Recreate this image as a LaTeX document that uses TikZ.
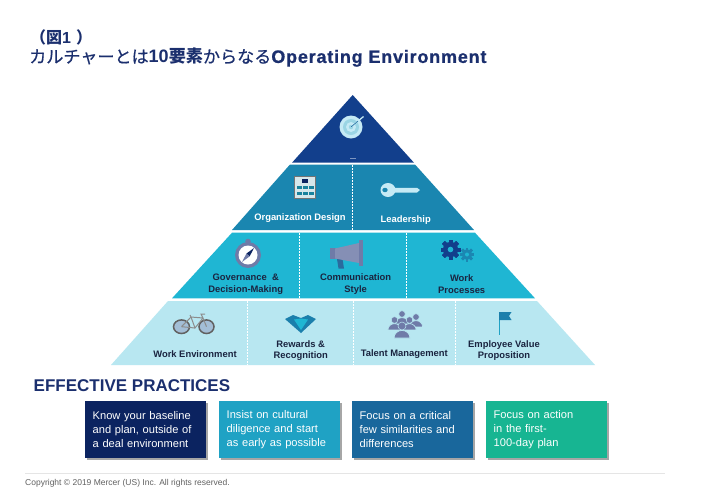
\documentclass[tikz,border=0pt]{standalone}
\usepackage{fontspec}
\setmainfont{Liberation Sans}
\newfontfamily\jpfont{Noto Sans CJK JP}
\usetikzlibrary{shadows}
\definecolor{navy}{HTML}{1B2F6E}
\definecolor{tierA}{HTML}{123F8C}
\definecolor{tierB}{HTML}{1A86B0}
\definecolor{tierC}{HTML}{1FB6D3}
\definecolor{tierD}{HTML}{B8E7F1}
\definecolor{boxA}{HTML}{0B2360}
\definecolor{boxB}{HTML}{1FA2C4}
\definecolor{boxC}{HTML}{19679C}
\definecolor{boxD}{HTML}{17B592}
\definecolor{inkdark}{HTML}{1A2440}
\definecolor{iconpurple}{HTML}{6F7BA8}
\definecolor{iconpale}{HTML}{C5EAF5}
\newcommand{\gearicon}[4]{% x y radius colour
  \fill[#4] (#1,#2) circle ({#3*0.76});
  \foreach \a in {0,45,...,135}{
    \fill[#4,shift={(#1,#2)},rotate=\a] ({-#3*0.2},{-#3}) rectangle ({#3*0.2},{#3});
    \fill[#4,shift={(#1,#2)},rotate=\a] ({-#3},{-#3*0.2}) rectangle ({#3},{#3*0.2});
  }
}
\newcommand{\personicon}[3]{% x y head radius
  \filldraw[fill=iconpurple,draw=tierD,line width=0.7pt] ({#1-2*#3},{#2+3*#3}) arc[start angle=180,end angle=360,x radius={2*#3},y radius={1.9*#3}] -- cycle;
  \filldraw[fill=iconpurple,draw=tierD,line width=0.5pt] (#1,#2) circle (#3);
}
\tikzset{
  divider/.style={white,line width=1pt,dash pattern=on 1.6pt off 1.4pt},
  wlabel/.style={inner sep=0pt,text=white,font=\fontsize{9.4}{11.6}\selectfont\bfseries,align=center},
  dlabel/.style={inner sep=0pt,text=inkdark,font=\fontsize{9.4}{11.6}\selectfont\bfseries,align=center},
  pbox/.style={inner xsep=7.5pt,inner ysep=0pt,minimum height=57pt,text width=106pt,align=left,text=white,
    font=\fontsize{11.1}{14}\selectfont,
    drop shadow={shadow xshift=2pt,shadow yshift=-2pt,fill=black!35,opacity=1}},
}
\begin{document}
\begin{tikzpicture}[x=1pt,y=-1pt]
\useasboundingbox (0,0) rectangle (704,499);
\fill[white] (0,0) rectangle (704,499);
% title
\node[anchor=west,inner sep=0pt,text=navy,font=\fontsize{16}{18}\selectfont\bfseries] (t1) at (30,37) {{\jpfont（図}1\hspace{5pt}{\jpfont）}};
\node[anchor=west,inner sep=0pt,text=navy,font=\fontsize{18}{20}\selectfont\bfseries] (t2) at (29,57.5) {{\jpfont\fontsize{17.1}{20}\selectfont\mdseries\addfontfeature{FakeBold=0.6}カルチャーとは}10{\jpfont\fontsize{17.1}{20}\selectfont 要素}{\jpfont\fontsize{17.1}{20}\selectfont\mdseries\addfontfeature{FakeBold=0.6}からなる}{\addfontfeature{LetterSpace=4.4,FakeBold=0.8}Operating Environment}};
% pyramid tiers
\fill[tierA] (352.7,95) -- (414,162.7) -- (292,162.7) -- cycle;
\fill[tierB] (290,164.5) -- (415,164.5) -- (474,230) -- (232,230) -- cycle;
\fill[tierC] (232,232.7) -- (475,232.7) -- (535,298.3) -- (172,298.3) -- cycle;
\fill[tierD] (168,301) -- (537,301) -- (595,365) -- (111,365) -- cycle;
\draw[divider] (352,165) -- (352,230);
\draw[divider] (299,233) -- (299,298);
\draw[divider] (406,233) -- (406,298);
\draw[divider] (247,301) -- (247,365);
\draw[divider] (353,301) -- (353,365);
\draw[divider] (455,301) -- (455,365);
% tiny mark in the top tier
\fill[white!45!tierA] (350,158) rectangle (355.5,158.6);
% target icon
\fill[iconpale] (351,127) circle (11.5);
\fill[white!55!boxB] (351,127) circle (8);
\fill[iconpale] (351,127) circle (5);
\fill[white!55!boxB] (351,127) circle (2.2);
\draw[iconpale,line width=1.3pt] (351,127) -- (363.5,116.5);
\draw[boxC,line width=0.6pt] (351,127) -- (358,121);
% organisation panel
\fill[black!55] (293.7,175.7) rectangle (316.3,199.2);
\fill[black!12!iconpale!50!white] (295,177) rectangle (315,198);
\fill[boxA] (302,179) rectangle (308,182.5);
\foreach \y in {186,192}{\foreach \x in {297,303,309}{\fill[boxB!80!black] (\x,\y) rectangle ++(4.5,2.5);}}
% key
\fill[iconpale] (388,190) ellipse (7.5 and 7);
\fill[tierB] (385,190) ellipse (2.7 and 2.2);
\fill[iconpale] (392,187.8) -- (417,187.8) -- (420,190) -- (417,192.5) -- (392,192.5) -- cycle;
% compass
\fill[iconpurple] (248,241.5) circle (2.8);
\fill[iconpurple] (248,255) circle (13);
\fill[white] (248,255) circle (9.5);
\fill[boxA] (254,248) -- (249.6,256.4) -- (246.4,253.6) -- cycle;
\fill[iconpurple] (242,262) -- (249.6,256.4) -- (246.4,253.6) -- cycle;
% megaphone
\fill[boxC!80!iconpurple] (337,259) -- (342.5,259) -- (344,268.5) -- (338.5,268.5) -- cycle;
\fill[iconpurple] (330,248) rectangle (336,258.5);
\fill[iconpurple!85!white] (335,248.5) -- (359,243) -- (359,263) -- (335,258.5) -- cycle;
\fill[iconpurple] (359,240) rectangle (363,265.5);
% gears
\gearicon{450.5}{249.5}{10}{tierA}
\fill[tierC] (450.5,249.5) circle (2.8);
\gearicon{467}{254.5}{7}{boxC!60!tierC}
\fill[tierC] (467,254.5) circle (2);
% bicycle
\fill[iconpale!60!iconpurple] (181.5,326.7) ellipse (8 and 6.8);
\fill[iconpale!60!iconpurple] (206.5,326.7) ellipse (7.5 and 6.8);
\draw[black!62,line width=1.5pt] (181.5,326.7) ellipse (8 and 6.8) (206.5,326.7) ellipse (7.5 and 6.8);
\draw[black!45,line width=1pt] (181.5,326.7) -- (191,317) -- (203,318) -- (206.5,326.7) (191,317) -- (195,328) -- (203,318) (181.5,326.7) -- (195,328)
  (203,318) -- (201,314) -- (205,314) (191,317) -- (190,315);
% diamond
\fill[boxC!70!tierC] (285,319) -- (293,315) -- (301,318) -- (308,315) -- (316,319) -- (301,333) -- cycle;
\fill[tierC] (294,319.5) -- (301,318.5) -- (308,319.5) -- (301,330) -- cycle;
% people
\personicon{402}{314}{3.3}
\personicon{416}{317}{3.3}
\personicon{394.5}{320}{3.3}
\personicon{409.5}{320}{3.3}
\personicon{402}{326}{4}
% flag
\draw[boxB,line width=1pt] (499,312) -- (499,335);
\fill[boxC!70!tierC] (499,312) -- (511.5,312) -- (509,316) -- (511.5,320) -- (499,320) -- cycle;
% labels
\node[wlabel] (lorg) at (300,218) {Organization Design};
\node[wlabel] (llead) at (405.7,220) {Leadership};
\node[dlabel] (lgov) at (245.7,284) {Governance \ \&\\Decision-Making};
\node[dlabel] (lcom) at (355.7,284) {Communication\\Style};
\node[dlabel] (lwork) at (461.7,284) {Work\\Processes};
\node[dlabel] (lenv) at (195,353.7) {Work Environment};
\node[dlabel] (lrew) at (300.7,350.5) {Rewards \&\\Recognition};
\node[dlabel] (ltal) at (404.3,353.7) {Talent Management};
\node[dlabel] (lemp) at (504,350.5) {Employee Value\\Proposition};
% effective practices
\node[anchor=west,inner sep=0pt,text=navy,font=\fontsize{17}{18}\selectfont\bfseries] (eff) at (33.5,386) {EFFECTIVE PRACTICES};
\node[pbox,fill=boxA,anchor=north west] (b1) at (85,401) {Know your baseline\\and plan, outside of\\a deal environment};
\node[pbox,fill=boxB,anchor=north west] (b2) at (219,401) {Insist on cultural\\diligence and start\\as early as possible};
\node[pbox,fill=boxC,anchor=north west] (b3) at (352,401) {Focus on a critical\\few similarities and\\differences};
\node[pbox,fill=boxD,anchor=north west] (b4) at (486,401) {Focus on action\\in the first-\\100-day plan};
% footer
\draw[black!10,line width=0.6pt] (25,473) -- (665,473);
\node[anchor=west,inner sep=0pt,text=black!62,font=\fontsize{8.5}{10}\selectfont] (copy) at (25,483) {Copyright © 2019 Mercer (US) Inc. All rights reserved.};
\end{tikzpicture}
\end{document}
